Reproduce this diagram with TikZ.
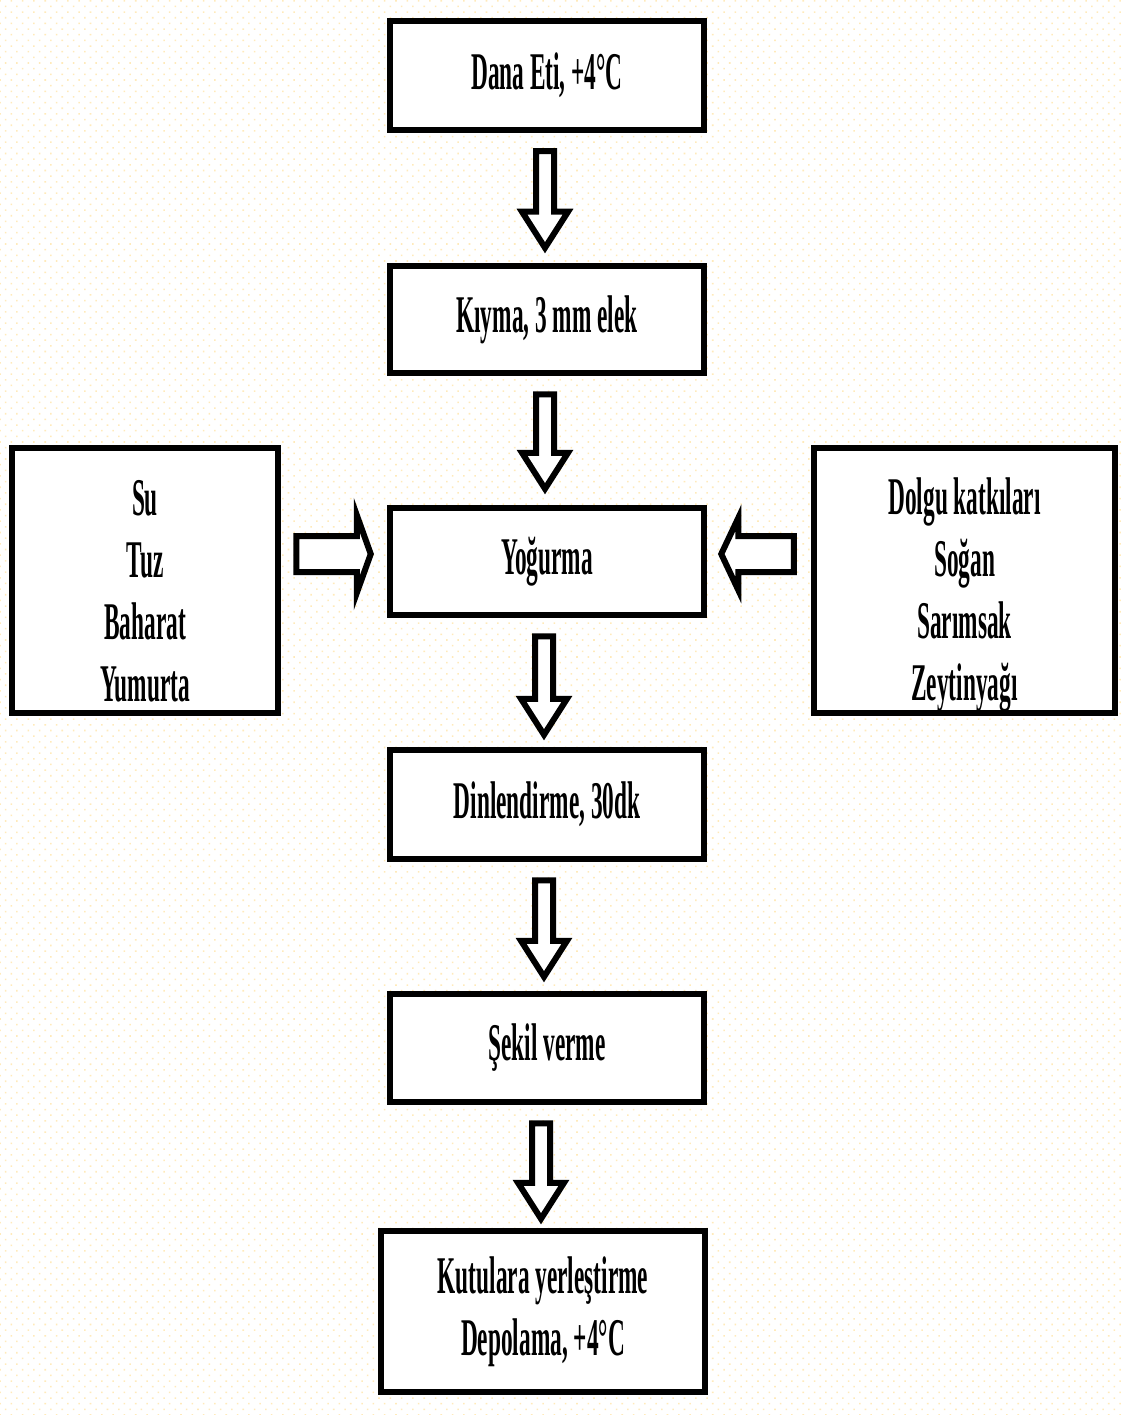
\documentclass[tikz,border=0pt]{standalone}
\usepackage{fontspec}
\newfontfamily\cond[FakeStretch=0.44]{Liberation Serif}
\usetikzlibrary{calc,patterns.meta}
\definecolor{dotcol}{RGB}{255,234,186}
\newcommand\varrow[5]{%
  \coordinate (#1t) at ($(#1.south)+(#3,18)$);
  \coordinate (#1p) at ($(#2.north)+(#4,-#5)$);
  \draw[blk] ($(#1t)+(-9,0)$) -- ($(#1t)+(9,0)$) -- ($(#1p)+(9,-36)$) -- ($(#1p)+(23,-36)$) -- (#1p) -- ($(#1p)+(-23,-36)$) -- ($(#1p)+(-9,-36)$) -- cycle;}
\begin{document}
\begin{tikzpicture}[x=1pt,y=-1pt,
  txt/.style={font=\cond\bfseries\fontsize{53}{62}\selectfont},
  box/.style={draw=black, line width=6.5pt, fill=white, minimum width=314pt, minimum height=108pt, inner sep=0pt, align=center, txt},
  lbl/.style={align=center, inner sep=0pt, txt},
  blk/.style={draw=black, line width=6pt, fill=white, line join=miter}]
\useasboundingbox (0,0) rectangle (1123,1415);
\fill[white] (0,0) rectangle (1123,1415);
\fill[pattern={Dots[distance=8pt,radius=1.1pt,angle=45]}, pattern color=dotcol] (0,0) rectangle (1123,1415);

\node[box, minimum height=109pt] (b1) at (547,75.5) {Dana Eti, +4°C};
\node[box, minimum height=107pt] (b2) at (547,319.5) {Kıyma, 3 mm elek};
\node[box, minimum height=107pt] (b3) at (547,561.5) {Yoğurma};
\node[box, minimum height=109pt] (b4) at (547,804.5) {Dinlendirme, 30dk};
\node[box] (b5) at (547,1048) {Şekil verme};
\node[box, minimum width=324pt, minimum height=161pt] (b6) at (543,1311.5) {Kutulara yerleştirme\\Depolama, +4°C};
\node[box, minimum width=266pt, minimum height=265pt] (lb) at (145,580.5) {};
\node[lbl] (ltext) at (145,591.5) {Su\\Tuz\\Baharat\\Yumurta};
\node[box, minimum width=301pt, minimum height=265pt] (rb) at (964.5,580.5) {};
\node[lbl] (rtext) at (964.5,595) {Dolgu katkıları\\Soğan\\Sarımsak\\Zeytinyağı};

\varrow{b1}{b2}{-2}{-2}{15}
\varrow{b2}{b3}{-2}{-2}{16}
\varrow{b3}{b4}{-3}{-3}{12}
\varrow{b4}{b5}{-3}{-3}{14}
\varrow{b5}{b6}{-6}{-2}{9}

\coordinate (lt1) at ($(lb.east |- b3.west)+(15,-7.5)$);
\coordinate (lp1) at ($(b3.west)+(-16,-7.5)$);
\draw[blk] ($(lt1)+(0,-18)$) -- ($(lp1)+(-14,-18)$) -- ($(lp1)+(-14,-39)$) -- (lp1) -- ($(lp1)+(-14,39)$) -- ($(lp1)+(-14,18)$) -- ($(lt1)+(0,18)$) -- cycle;

\coordinate (rt1) at ($(rb.west |- b3.east)+(-17,-7.5)$);
\coordinate (rp1) at ($(b3.east)+(14,-7.5)$);
\draw[blk] ($(rt1)+(0,-18)$) -- ($(rp1)+(17,-18)$) -- ($(rp1)+(17,-36)$) -- (rp1) -- ($(rp1)+(17,36)$) -- ($(rp1)+(17,18)$) -- ($(rt1)+(0,18)$) -- cycle;
\end{tikzpicture}
\end{document}
